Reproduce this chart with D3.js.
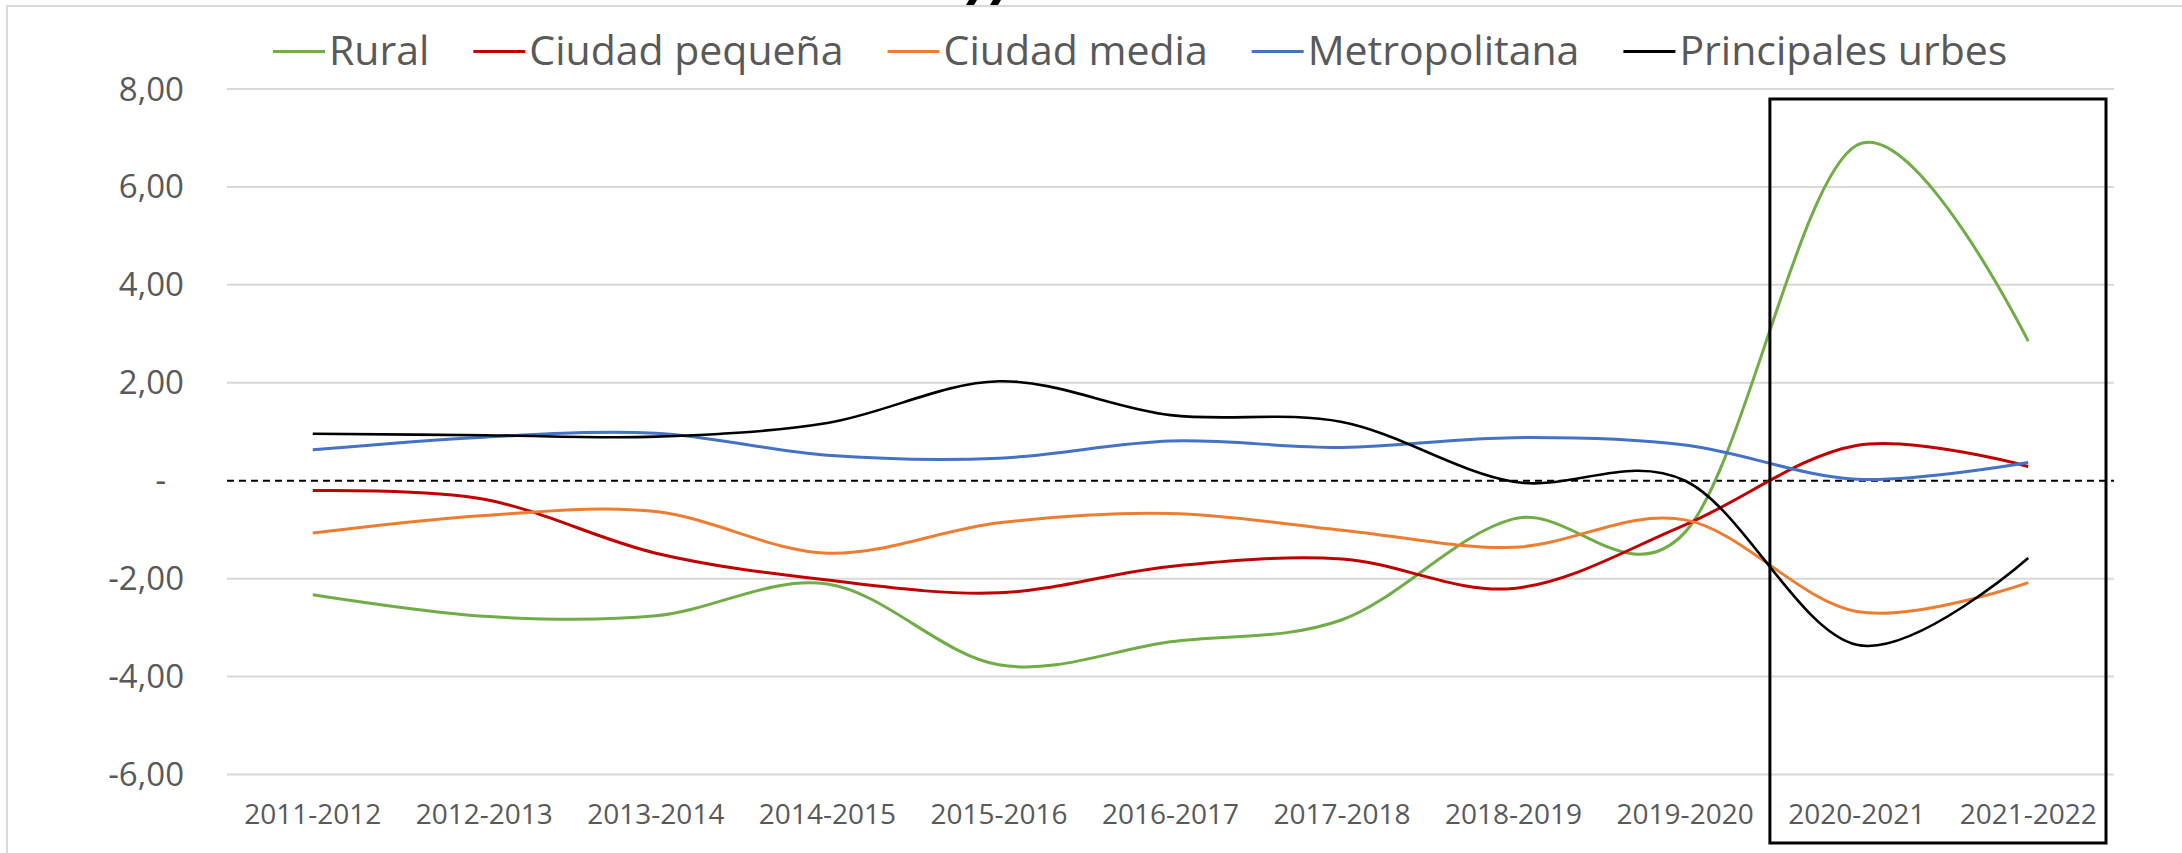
<!DOCTYPE html>
<html>
<head>
<meta charset="utf-8">
<script src="https://cdn.jsdelivr.net/npm/d3@7"></script>
<style>
  body { margin: 0; background: #fff; }
  svg text { font-family: "Open Sans", "Noto Sans", sans-serif; fill: #595959; }
</style>
</head>
<body>
<div id="chart"></div>
<script>
// categories and series values
const years = ["2011-2012", "2012-2013", "2013-2014", "2014-2015", "2015-2016",
  "2016-2017", "2017-2018", "2018-2019", "2019-2020", "2020-2021", "2021-2022"];

const rural = [-2.33, -2.77, -2.76, -2.11, -3.76, -3.29, -2.84, -0.78, -1.05, 6.85, 2.85];
const ciudadPequena = [-0.20, -0.38, -1.48, -2.03, -2.29, -1.75, -1.60, -2.20, -0.90, 0.72, 0.29];
const ciudadMedia = [-1.07, -0.71, -0.63, -1.48, -0.86, -0.67, -1.01, -1.36, -0.80, -2.67, -2.08];
const metropolitana = [0.63, 0.89, 0.97, 0.52, 0.46, 0.81, 0.68, 0.88, 0.73, 0.03, 0.37];
const principales = [0.96, 0.93, 0.90, 1.18, 2.03, 1.34, 1.20, -0.02, 0.0, -3.35, -1.58];

const yTicks = [-6, -4, -2, 0, 2, 4, 6, 8];

const series = [
  { name: "Rural", values: rural, color: "#70AD47" },
  { name: "Ciudad pequeña", values: ciudadPequena, color: "#C00000" },
  { name: "Ciudad media", values: ciudadMedia, color: "#ED7D31" },
  { name: "Metropolitana", values: metropolitana, color: "#4472C4" },
  { name: "Principales urbes", values: principales, color: "#000000" }
];

const width = 2182;
const height = 853;
const plot = { left: 227, right: 2114, top: 89, bottom: 774.5 };

const svg = d3.select("#chart")
  .append("svg")
  .attr("width", width)
  .attr("height", height);

// chart frame (only top and left edges are in view)
svg.append("rect")
  .attr("x", 7).attr("y", 6)
  .attr("width", width).attr("height", height)
  .attr("fill", "none")
  .attr("stroke", "#d9d9d9")
  .attr("stroke-width", 2);

// bottom of a title that is cut off above the frame
svg.append("g")
  .attr("fill", "#000")
  .selectAll("path")
  .data([966, 990])
  .join("path")
  .attr("d", (x) => `M${x + 3},0 L${x + 11},0 L${x + 8},5 L${x},5 Z`);

const x = d3.scalePoint()
  .domain(years)
  .range([plot.left, plot.right])
  .padding(0.5);

const y = d3.scaleLinear()
  .domain([-6, 8])
  .range([plot.bottom, plot.top]);

// gridlines
svg.append("g")
  .selectAll("line")
  .data(yTicks.filter((d) => d !== 0))
  .join("line")
  .attr("x1", plot.left)
  .attr("x2", plot.right)
  .attr("y1", (d) => y(d))
  .attr("y2", (d) => y(d))
  .attr("stroke", "#d9d9d9")
  .attr("stroke-width", 2);

// dashed zero line
svg.append("line")
  .attr("x1", plot.left)
  .attr("x2", plot.right)
  .attr("y1", y(0))
  .attr("y2", y(0))
  .attr("stroke", "#000")
  .attr("stroke-width", 2)
  .attr("stroke-dasharray", "7,5");

// y axis labels, spreadsheet style: comma decimals, plain hyphen, "-" for zero
const fmt = (d) => d === 0 ? "-" : (d < 0 ? "-" : "") + Math.abs(d).toFixed(2).replace(".", ",");
svg.append("g")
  .selectAll("text")
  .data(yTicks)
  .join("text")
  .attr("x", (d) => d === 0 ? 166 : 184)
  .attr("y", (d) => y(d))
  .attr("dy", "0.35em")
  .attr("text-anchor", "end")
  .style("font-size", "33px")
  .text(fmt);

// x axis labels
svg.append("g")
  .selectAll("text")
  .data(years)
  .join("text")
  .attr("x", (d) => x(d))
  .attr("y", plot.bottom + 40)
  .attr("dy", "0.35em")
  .attr("text-anchor", "middle")
  .style("font-size", "28px")
  .text((d) => d);

// series lines (smoothed like the spreadsheet)
const line = d3.line()
  .x((d, i) => x(years[i]))
  .y((d) => y(d))
  .curve(d3.curveCardinal.tension(0));

svg.append("g")
  .selectAll("path")
  .data(series)
  .join("path")
  .attr("d", (s) => line(s.values))
  .attr("fill", "none")
  .attr("stroke", (s) => s.color)
  .attr("stroke-width", (s) => s.name === "Principales urbes" ? 2.6 : 3);

// highlight box around the last two periods
const step = x.step();
const boxLeft = x("2020-2021") - step / 2 - 1;
const boxRight = x("2021-2022") + step / 2 - 8;
svg.append("rect")
  .attr("x", boxLeft)
  .attr("y", y(8) + 10)
  .attr("width", boxRight - boxLeft)
  .attr("height", 843 - (y(8) + 10))
  .attr("fill", "none")
  .attr("stroke", "#000")
  .attr("stroke-width", 3);

// legend
const legend = svg.append("g");
let lx = 273;
series.forEach((s) => {
  legend.append("line")
    .attr("x1", lx).attr("x2", lx + 52)
    .attr("y1", 51.5).attr("y2", 51.5)
    .attr("stroke", s.color)
    .attr("stroke-width", 3);
  const t = legend.append("text")
    .attr("x", lx + 56)
    .attr("y", 65)
    .style("font-size", "41px")
    .text(s.name);
  lx += 56 + t.node().getComputedTextLength() + 44;
});
</script>
</body>
</html>
